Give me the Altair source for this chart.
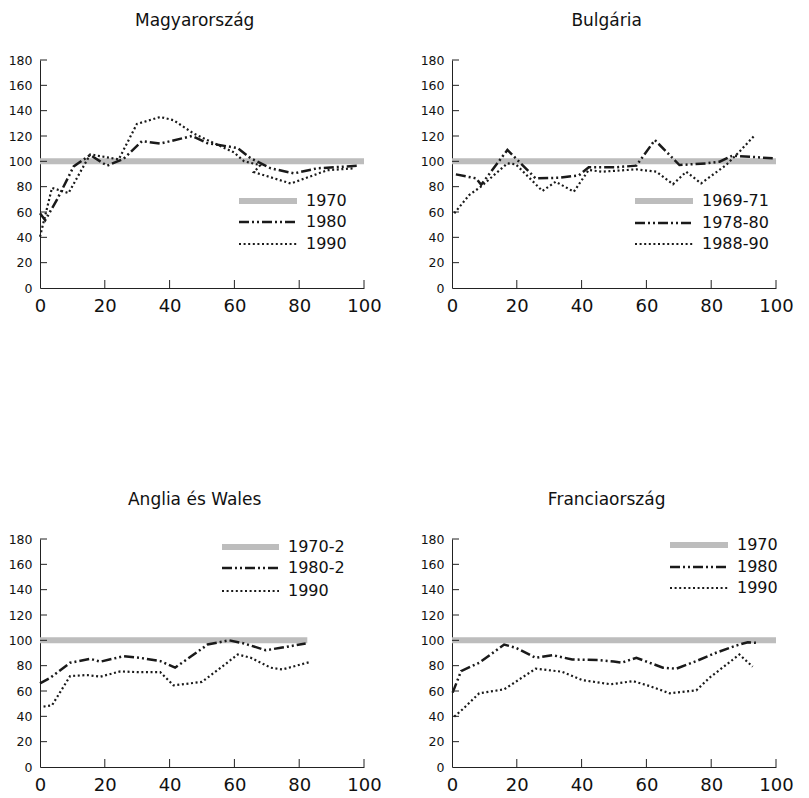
import altair as alt
import pandas as pd

# ---------------- data ----------------
# Panel 1: Magyarország
hu_title = "Magyarország"
hu_labels = ["1970", "1980", "1990"]
hu_base_x = [0, 100]
hu_base_y = [100, 100]
hu_s2_x = [0, 1.6, 5.2, 10.4, 15.5, 20.7, 25.8, 31.5, 37.1, 46.9, 51.5, 61, 65, 71.2, 78.4, 85.6, 98]
hu_s2_y = [59, 53.5, 69.5, 96, 105, 96.5, 102, 116, 114, 120, 114.5, 110.5, 102.5, 94.5, 90.5, 94.5, 96.5]
hu_s3_x = [0, 3.7, 8.8, 15.5, 24.3, 29.9, 37.1, 41.2, 47.4, 51.5, 59.9, 63, 68, 66, 77.4, 88.7, 97]
hu_s3_y = [40.5, 79, 75, 105.5, 101.5, 129.5, 135, 132.5, 122, 117, 107, 100, 97, 91.5, 82.5, 93, 94.5]

# Panel 2: Bulgária
bg_title = "Bulgária"
bg_labels = ["1969-71", "1978-80", "1988-90"]
bg_base_x = [0, 100]
bg_base_y = [100, 100]
bg_s2_x = [1.2, 7.5, 9, 17.1, 25.8, 33, 39.2, 42.2, 50.5, 56.9, 62.6, 70.2, 78.5, 82.6, 86.6, 99]
bg_s2_y = [89.7, 86.5, 81.5, 109, 86.6, 87, 89, 95.3, 95.3, 96.6, 116.8, 97.1, 98.4, 99.7, 104.5, 102.4]
bg_s3_x = [0.7, 5.3, 8.9, 17.1, 19.7, 27.9, 32, 37.6, 42.2, 46.3, 56.9, 63.1, 68.2, 72.3, 76.9, 84.6, 88.7, 93.3]
bg_s3_y = [59, 73.4, 80, 98.4, 97.6, 76.6, 83.9, 76, 93.2, 91.8, 93.7, 91.8, 81.9, 91.8, 82.6, 97.1, 107.6, 120.2]

# Panel 3: Anglia és Wales
en_title = "Anglia és Wales"
en_labels = ["1970-2", "1980-2", "1990"]
en_base_x = [0, 82.5]
en_base_y = [100, 100]
en_s2_x = [0, 3.2, 9.3, 15.5, 18.6, 25.8, 30.9, 37.1, 41.7, 49.5, 51.7, 58.4, 63, 69.7, 74.3, 82]
en_s2_y = [66, 70.5, 82.3, 85.4, 83.1, 87.5, 86.2, 83.6, 78.4, 92.5, 96.7, 100, 97.5, 92.2, 94.1, 97.5]
en_s3_x = [1.1, 3.7, 9.3, 14.5, 18.6, 24.8, 29.9, 37.1, 41.2, 46.3, 50, 55.8, 61, 65.1, 71.2, 74.8, 83.6]
en_s3_y = [47.7, 48.7, 71.8, 72.6, 71.3, 75.5, 74.9, 74.9, 64.5, 66, 67.2, 78.4, 88.8, 86.2, 78.4, 77, 83.1]

# Panel 4: Franciaország
fr_title = "Franciaország"
fr_labels = ["1970", "1980", "1990"]
fr_base_x = [0, 100]
fr_base_y = [100, 100]
fr_s2_x = [0.2, 2.8, 8.4, 16.1, 19.7, 25.8, 31, 37.1, 45.3, 49.9, 52.3, 56.9, 65.1, 69.2, 75.4, 81.5, 87.7, 91.3, 93.8]
fr_s2_y = [58.7, 75.7, 82.3, 96.7, 94.1, 86.2, 88.3, 84.9, 84.4, 83.3, 82.3, 86.2, 78.4, 77.6, 83.6, 90.2, 95.9, 98.5, 98]
fr_s3_x = [0.7, 3.3, 8.4, 16.1, 25.8, 34, 40.2, 49, 55.9, 61, 67.2, 75.4, 79.5, 88.7, 92.8]
fr_s3_y = [39.8, 45.6, 58.2, 61.3, 77.6, 75.2, 68.6, 65.3, 67.8, 63.9, 58.2, 60.5, 70.5, 88.8, 79.2]

x_ticks = [0, 20, 40, 60, 80, 100]
y_ticks = [0, 20, 40, 60, 80, 100, 120, 140, 160, 180]

# ---------------- styling ----------------
W, H = 324, 228
FONT = "DejaVu Sans"
STYLES = [
    dict(color="#bdbdbd", strokeWidth=6),
    dict(color="#1a1a1a", strokeWidth=2.5, strokeDash=[10, 3, 2, 3, 2, 3]),
    dict(color="#1a1a1a", strokeWidth=2.2, strokeDash=[2, 2.6]),
]


def xy_frame(xs, ys):
    return pd.DataFrame({"x": xs, "y": ys, "i": list(range(len(xs)))})


x_enc = alt.X(
    "x:Q",
    scale=alt.Scale(domain=[0, 100], nice=False, zero=False),
    axis=alt.Axis(values=x_ticks, ticks=False, tickSize=0, grid=False, title=None,
                  labelFontSize=18, labelPadding=9, domainColor="#222222",
                  labelFont=FONT, labelColor="#111111", labelFlush=False),
)
y_enc = alt.Y(
    "y:Q",
    scale=alt.Scale(domain=[0, 180], nice=False),
    axis=alt.Axis(values=y_ticks, ticks=False, tickSize=0, grid=False, title=None,
                  labelFontSize=12.5, labelPadding=8, domainColor="#222222",
                  labelFont=FONT, labelColor="#111111", labelFlush=False),
)


def panel(title, labels, series, leg):
    # leg: (x1, x2, xtext, [row y's]) in pixels relative to the plot area
    layers = []
    for (xs, ys), st in zip(series, STYLES):
        layers.append(
            alt.Chart(xy_frame(xs, ys)).mark_line(**st, strokeCap="butt").encode(
                x=x_enc, y=y_enc, order="i:Q"
            )
        )
    # inward tick marks
    xt = pd.DataFrame({"x": x_ticks[1:]})
    layers.append(
        alt.Chart(xt).mark_rule(color="#222222", strokeWidth=1).encode(
            x=x_enc, y=alt.value(H), y2=alt.value(H - 8)
        )
    )
    yt = pd.DataFrame({"y": y_ticks[1:]})
    layers.append(
        alt.Chart(yt).mark_rule(color="#222222", strokeWidth=1).encode(
            y=y_enc, x=alt.value(0), x2=alt.value(7)
        )
    )
    # legend
    x1, x2, xt_, rows = leg
    for lab, st, ry in zip(labels, STYLES, rows):
        layers.append(
            alt.Chart(pd.DataFrame({"a": [0]})).mark_rule(**st, strokeCap="butt").encode(
                x=alt.value(x1), x2=alt.value(x2), y=alt.value(ry)
            )
        )
        layers.append(
            alt.Chart(pd.DataFrame({"a": [0]})).mark_text(
                align="left", baseline="middle", fontSize=16, font=FONT, color="#111111"
            ).encode(x=alt.value(xt_), y=alt.value(ry), text=alt.value(lab))
        )
    return alt.layer(*layers).properties(
        width=W, height=H,
        title=alt.TitleParams(title, fontSize=17, font=FONT, fontWeight="normal",
                              color="#111111", anchor="middle", frame="bounds", offset=24),
    )


p1 = panel(hu_title, hu_labels,
           [(hu_base_x, hu_base_y), (hu_s2_x, hu_s2_y), (hu_s3_x, hu_s3_y)],
           (199, 257, 266, [141, 162, 184]))
p2 = panel(bg_title, bg_labels,
           [(bg_base_x, bg_base_y), (bg_s2_x, bg_s2_y), (bg_s3_x, bg_s3_y)],
           (183, 241, 250, [141, 163, 184]))
p3 = panel(en_title, en_labels,
           [(en_base_x, en_base_y), (en_s2_x, en_s2_y), (en_s3_x, en_s3_y)],
           (182, 239, 248, [8, 29, 52]))
p4 = panel(fr_title, fr_labels,
           [(fr_base_x, fr_base_y), (fr_s2_x, fr_s2_y), (fr_s3_x, fr_s3_y)],
           (218, 276, 285, [6, 28, 49]))

row1 = alt.hconcat(p1, p2, spacing=38)
row2 = alt.hconcat(p3, p4, spacing=38)
chart = alt.vconcat(row1, row2, spacing=176).properties(
    padding={"left": 0, "top": 4, "right": 0, "bottom": 0}
).configure_view(stroke=None)

chart.save("out.html", embed_options={"renderer": "svg", "actions": False})
